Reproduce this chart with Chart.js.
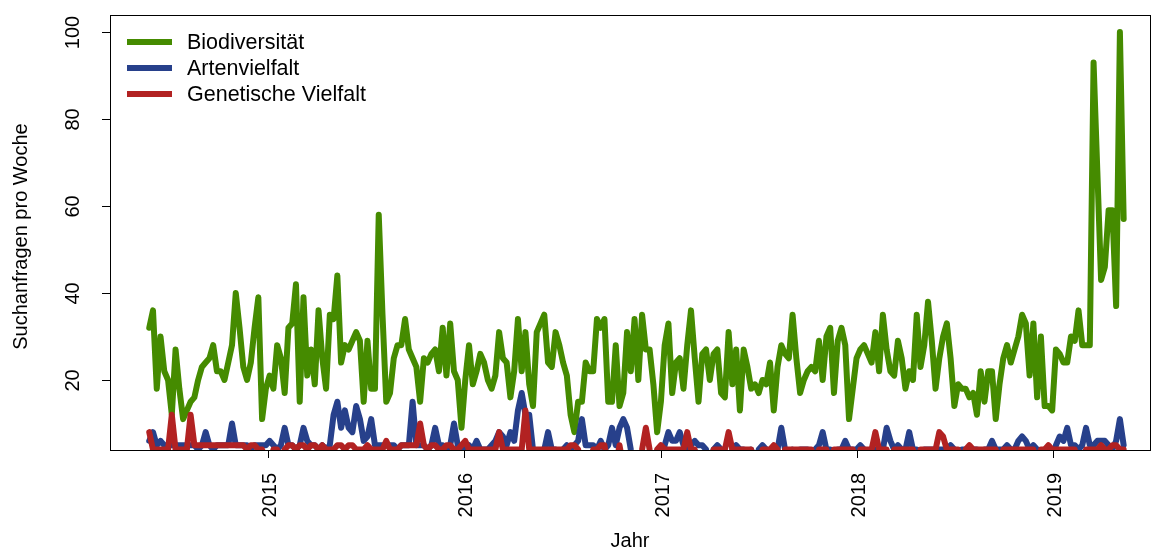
<!DOCTYPE html>
<html>
<head>
<meta charset="utf-8">
<script src="https://cdn.jsdelivr.net/npm/chart.js@4"></script>
<style>
  html, body { margin: 0; padding: 0; background: #fff; }
  #wrap { width: 1152px; height: 550px; }
</style>
</head>
<body>
<div id="wrap"><canvas id="trendChart" width="1152" height="550"></canvas></div>
<script>
// Series (weekly Google Trends values, first week 2014-05-25)

const firstWeek = "2014-05-25";

const biodiversitaet = [
  32, 36, 18, 30, 22, 20, 12, 27, 18, 11,
  13, 15, 16, 20, 23, 24, 25, 28, 22, 22,
  20, 24, 28, 40, 32, 23, 20, 24, 32, 39,
  11, 18, 21, 18, 28, 25, 17, 32, 33, 42,
  15, 39, 21,
  27, 19, 36, 25, 18, 35, 34, 44, 24, 28,
  27, 29, 31, 29, 15, 29, 18, 18, 58, 35,
  15, 17, 25, 28, 28, 34, 27, 25, 23, 15,
  25, 24, 26, 27, 22, 32, 21, 33, 22, 20,
  9, 20, 28, 19,
  22, 26, 24, 20, 18, 21, 31, 25, 24, 16,
  22, 34, 22, 31, 19, 14, 31, 33, 35, 24,
  23, 31, 28, 24, 21, 12, 8, 15, 15, 24,
  22, 22, 34, 32, 34, 15, 15, 28, 14, 17,
  31, 22, 34, 20,
  35, 27, 27, 19, 8, 15, 28, 33, 17, 24,
  25, 18, 28, 36, 25, 15, 26, 27, 20, 26,
  27, 17, 16, 31, 19, 27, 13, 27, 23, 18,
  19, 17, 20, 19, 24, 13, 23, 28, 26, 25,
  35, 25, 17, 20,
  22, 23, 22, 29, 20, 30, 32, 17, 29, 32,
  28, 11, 18, 25, 27, 28, 26, 24, 31, 22,
  35, 27, 22, 21, 29, 25, 18, 22, 20, 35,
  23, 28, 38, 29, 18, 25, 30, 33, 25, 14,
  19, 18, 18,
  16, 17, 12, 22, 15, 22, 22, 11, 19, 25,
  28, 24, 27, 30, 35, 33, 21, 33, 16, 30,
  14, 14, 13, 27, 26, 24, 24, 30, 29, 36,
  28, 28, 28, 93, 68, 43, 46, 59, 59, 37,
  100, 57
];

const artenvielfalt = [
  6, 8, 5, 6, 5, 5, 5, 5, 5, 5,
  5, 5, 5, 4, 5, 8, 5, 4, 5, 5,
  5, 5, 10, 5, 5, 5, 5, 4, 5, 5,
  5, 5, 6, 5, 4, 5, 9, 5, 5, 4,
  5, 9, 6, 5, 5, 4, 5, 4, 5, 12,
  15, 9, 13, 9, 8, 14, 11, 6, 7, 11,
  5, 5, 5, 5, 5, 5, 4, 5, 5, 5,
  15, 5, 5, 5, 4, 5, 9, 5, 5, 4,
  5, 10, 5, 4, 4, 5, 4, 6, 4, 4,
  4, 5, 6, 8, 7, 5, 8, 6, 13, 17,
  12, 12, 4, 0, 0, 4, 8, 4, 4, 0,
  4, 5, 4, 5, 6, 11, 5, 5, 5, 4,
  6, 4, 5, 9, 5, 9, 11, 9, 4, 0,
  0, 0, 0, 0, 0, 0, 0, 5, 8, 6,
  6, 8, 5, 4, 5, 6, 5, 5, 4, 0,
  4, 5, 4, 0, 0, 4, 5, 4, 4, 0,
  4, 0, 4, 5, 4, 0, 4, 4, 9, 4,
  0, 4, 0, 4, 4, 4, 0, 4, 5, 8,
  4, 4, 0, 4, 4, 6, 4, 4, 4, 5,
  4, 0, 4, 4, 4, 4, 9, 6, 4, 5,
  4, 4, 8, 4, 4, 0, 4, 4, 4, 4,
  4, 4, 4, 5, 4, 0, 4, 4, 0, 4,
  4, 0, 4, 4, 6, 4, 4, 4, 5, 4,
  4, 6, 7, 6, 4, 5, 4, 0, 4, 4,
  0, 5, 7, 6, 9, 5, 5, 4, 5, 9,
  5, 5, 6, 6, 6, 5, 4, 6, 11, 5
];

const genetischeVielfalt = [
  8, 4, 4, 4, 4, 4, 12, 4, 4, 4,
  4, 12, 5, 5, 5, 5, 5, 5, 5, 5,
  5, 5, 5, 5, 5, 5, 4, 5, 5, 4,
  4, 0, 0, 4, 4, 0, 4, 5, 5, 4,
  5, 5, 4, 5, 5, 4, 5, 4, 4, 4,
  5, 5, 4, 5, 5, 4, 4, 4, 5, 4,
  4, 4, 4, 6, 4, 4, 4, 5, 5, 5,
  5, 5, 10, 5, 4, 5, 5, 4, 4, 5,
  5, 4, 4, 5, 6, 4, 4, 4, 4, 4,
  4, 4, 4, 8, 4, 4, 4, 4, 4, 4,
  13, 4, 4, 4, 4, 4, 4, 4, 4, 4,
  4, 4, 5, 5, 4, 0, 0, 0, 4, 4,
  5, 5, 0, 0, 0, 5, 0, 0, 0, 0,
  0, 4, 9, 4, 0, 4, 5, 4, 4, 4,
  4, 4, 4, 8, 4, 4, 0, 0, 0, 0,
  4, 4, 4, 4, 8, 4, 4, 4, 4, 4,
  4, 0, 0, 4, 4, 4, 5, 4, 0, 4,
  4, 4, 4, 4, 4, 4, 4, 0, 4, 4,
  4, 0, 4, 4, 4, 4, 4, 4, 0, 4,
  4, 4, 4, 8, 4, 4, 4, 0, 4, 4,
  4, 4, 4, 4, 0, 4, 4, 4, 4, 4,
  8, 7, 4, 4, 4, 4, 0, 4, 5, 4,
  4, 4, 4, 4, 4, 4, 0, 4, 4, 4,
  4, 4, 4, 4, 4, 4, 0, 4, 4, 5,
  4, 4, 4, 4, 4, 4, 4, 0, 0, 4,
  4, 4, 4, 5, 4, 4, 5, 5, 4, 4
];

const seriesNames = ["Biodiversität", "Artenvielfalt", "Genetische Vielfalt"];
const seriesColors = ["#458B00", "#27408B", "#B22222"];
const yearTicks = [2015, 2016, 2017, 2018, 2019];
const valueTicks = [20, 40, 60, 80, 100];

// Dates -> day numbers

const DAY = 86400000;
const dayOf = (y, m, d) => Date.UTC(y, m - 1, d) / DAY;
const start = Date.parse(firstWeek) / DAY;
const weekDays = biodiversitaet.map((v, i) => start + i * 7);
const toPoints = (arr) => arr.map((v, i) => ({ x: weekDays[i], y: v }));

const FONT = "'Liberation Sans', Arial, Helvetica, sans-serif";

// Axes, box, legend (R base style)

const basePlot = {
  id: "basePlot",
  afterDraw(chart) {
    const { ctx, chartArea: a, scales } = chart;
    const x = scales.x, y = scales.y;
    ctx.save();
    ctx.strokeStyle = "#000";
    ctx.lineWidth = 1;
    ctx.strokeRect(a.left + 0.5, a.top + 0.5, a.right - a.left, a.bottom - a.top);

    ctx.fillStyle = "#000";
    ctx.font = "20px " + FONT;

    // x ticks
    yearTicks.forEach((yr) => {
      const px = Math.round(x.getPixelForValue(dayOf(yr, 1, 1))) + 0.5;
      ctx.beginPath();
      ctx.moveTo(px, a.bottom);
      ctx.lineTo(px, a.bottom + 8);
      ctx.stroke();
      ctx.save();
      ctx.translate(px + 7, a.bottom + 23);
      ctx.rotate(-Math.PI / 2);
      ctx.textAlign = "right";
      ctx.textBaseline = "alphabetic";
      ctx.fillText(String(yr), 0, 0);
      ctx.restore();
    });

    // y ticks
    valueTicks.forEach((v) => {
      const py = Math.round(y.getPixelForValue(v)) + 0.5;
      ctx.beginPath();
      ctx.moveTo(a.left, py);
      ctx.lineTo(a.left - 8, py);
      ctx.stroke();
      ctx.save();
      ctx.translate(a.left - 31, py);
      ctx.rotate(-Math.PI / 2);
      ctx.textAlign = "center";
      ctx.textBaseline = "alphabetic";
      ctx.fillText(String(v), 0, 0);
      ctx.restore();
    });

    // axis titles
    ctx.textAlign = "center";
    ctx.textBaseline = "alphabetic";
    ctx.fillText("Jahr", (a.left + a.right) / 2, 547);
    ctx.save();
    ctx.translate(27, (a.top + a.bottom) / 2 + 4);
    ctx.rotate(-Math.PI / 2);
    ctx.fillText("Suchanfragen pro Woche", 0, 0);
    ctx.restore();

    // legend
    ctx.font = "21.5px " + FONT;
    ctx.textAlign = "left";
    ctx.textBaseline = "middle";
    ctx.lineCap = "butt";
    seriesNames.forEach((name, i) => {
      const ly = 42 + i * 26;
      ctx.strokeStyle = seriesColors[i];
      ctx.lineWidth = 6;
      ctx.beginPath();
      ctx.moveTo(127, ly);
      ctx.lineTo(172, ly);
      ctx.stroke();
      ctx.fillStyle = "#000";
      ctx.fillText(name, 187, ly + 1);
    });
    ctx.restore();
  }
};

const ctx = document.getElementById("trendChart").getContext("2d");
const trendChart = new Chart(ctx, {
  type: "line",
  data: {
    datasets: [
      { label: seriesNames[0], data: toPoints(biodiversitaet), borderColor: seriesColors[0], order: 3 },
      { label: seriesNames[1], data: toPoints(artenvielfalt), borderColor: seriesColors[1], order: 2 },
      { label: seriesNames[2], data: toPoints(genetischeVielfalt), borderColor: seriesColors[2], order: 1 }
    ]
  },
  options: {
    responsive: false,
    animation: false,
    devicePixelRatio: 1,
    layout: { padding: { left: 110, top: 15, right: 2, bottom: 100 } },
    elements: {
      line: { borderWidth: 6, tension: 0, borderJoinStyle: "round", borderCapStyle: "round", fill: false },
      point: { radius: 0, hoverRadius: 0 }
    },
    datasets: { line: { clip: 0 } },
    scales: {
      x: { type: "linear", display: false, min: dayOf(2014, 3, 13), max: dayOf(2019, 6, 30) },
      y: { type: "linear", display: false, min: 3.9, max: 103.9 }
    },
    plugins: { legend: { display: false }, tooltip: { enabled: false } }
  },
  plugins: [basePlot]
});
</script>
</body>
</html>
